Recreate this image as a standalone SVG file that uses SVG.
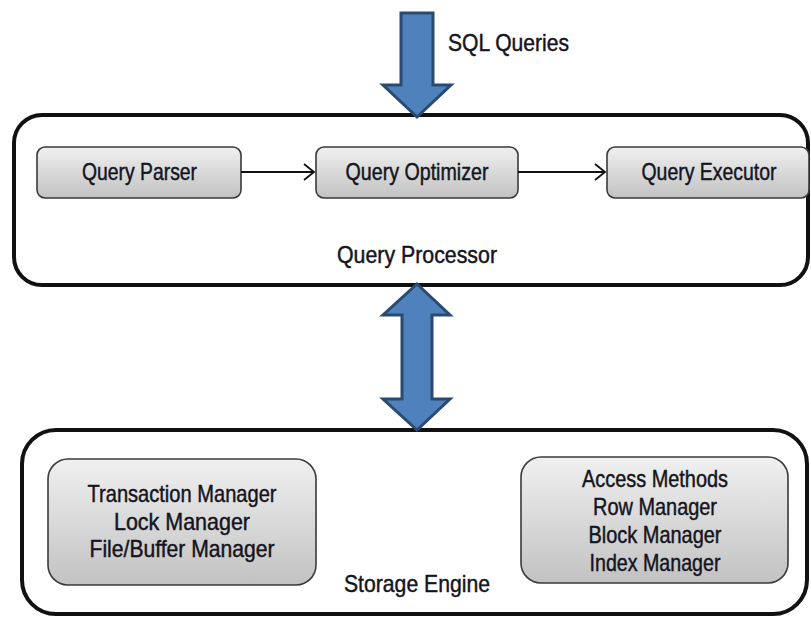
<svg xmlns="http://www.w3.org/2000/svg" width="811" height="617" viewBox="0 0 811 617">
<defs>
<linearGradient id="nodeGrad" x1="0" y1="0" x2="0" y2="1">
<stop offset="0" stop-color="#f0f0f0"/>
<stop offset="1" stop-color="#c2c2c2"/>
</linearGradient>
<marker id="chev" markerWidth="14" markerHeight="20" refX="12" refY="10" orient="auto" markerUnits="userSpaceOnUse">
<path d="M2,2 L12,10 L2,18" fill="none" stroke="#111" stroke-width="1.8"/>
</marker>
<style>
.outer{fill:#fff;stroke:#111;stroke-width:4}
.node{fill:url(#nodeGrad);stroke:#3a3a3a;stroke-width:1.6}
.lbl{font-family:"Liberation Sans",Arial,sans-serif;font-size:24px;fill:#141420;stroke:#141420;stroke-width:0.45;text-anchor:middle}
.big{fill:#4f81bd;stroke:#2b4a70;stroke-width:3;stroke-linejoin:miter}
.flow{stroke:#111;stroke-width:1.8;fill:none}
</style>
</defs>
<rect width="811" height="617" fill="#fff"/>

<g id="query-processor">
<rect class="outer" x="14" y="115" width="794" height="170" rx="28"/>
<text class="lbl" x="417" y="263" textLength="160" lengthAdjust="spacingAndGlyphs">Query Processor</text>
</g>

<g id="storage-engine">
<rect class="outer" x="22" y="430" width="785" height="184" rx="34"/>
<text class="lbl" x="417" y="592" textLength="146" lengthAdjust="spacingAndGlyphs">Storage Engine</text>
</g>

<g id="query-parser">
<rect class="node" x="37" y="147" width="204" height="51" rx="8"/>
<text class="lbl" x="139.5" y="180" textLength="115" lengthAdjust="spacingAndGlyphs">Query Parser</text>
</g>

<g id="query-optimizer">
<rect class="node" x="316" y="147" width="202" height="51" rx="8"/>
<text class="lbl" x="417" y="180" textLength="143" lengthAdjust="spacingAndGlyphs">Query Optimizer</text>
</g>

<g id="query-executor">
<rect class="node" x="607" y="147" width="202" height="51" rx="8"/>
<text class="lbl" x="709" y="180" textLength="135" lengthAdjust="spacingAndGlyphs">Query Executor</text>
</g>

<g id="managers-left">
<rect class="node" x="48" y="459" width="268" height="126" rx="20"/>
<text class="lbl" x="182" y="502" textLength="189" lengthAdjust="spacingAndGlyphs">Transaction Manager</text>
<text class="lbl" x="182" y="530" textLength="136" lengthAdjust="spacingAndGlyphs">Lock Manager</text>
<text class="lbl" x="182" y="557" textLength="185" lengthAdjust="spacingAndGlyphs">File/Buffer Manager</text>
</g>

<g id="managers-right">
<rect class="node" x="521" y="457" width="267" height="126" rx="20"/>
<text class="lbl" x="655" y="487" textLength="146" lengthAdjust="spacingAndGlyphs">Access Methods</text>
<text class="lbl" x="655" y="515" textLength="124" lengthAdjust="spacingAndGlyphs">Row Manager</text>
<text class="lbl" x="655" y="543" textLength="133" lengthAdjust="spacingAndGlyphs">Block Manager</text>
<text class="lbl" x="655" y="571" textLength="131" lengthAdjust="spacingAndGlyphs">Index Manager</text>
</g>

<g id="connectors">
<polygon class="big" points="401,13 433,13 433,85 451,85 417,117 383,85 401,85"/>
<polygon class="big" points="417,284 450,315 432,315 432,399 450,399 417,430 383,399 402,399 402,315 383,315"/>
<line class="flow" x1="241" y1="172" x2="314" y2="172" marker-end="url(#chev)"/>
<line class="flow" x1="518" y1="172" x2="605" y2="172" marker-end="url(#chev)"/>
<text class="lbl" x="508.5" y="51" textLength="121" lengthAdjust="spacingAndGlyphs">SQL Queries</text>
</g>
</svg>
